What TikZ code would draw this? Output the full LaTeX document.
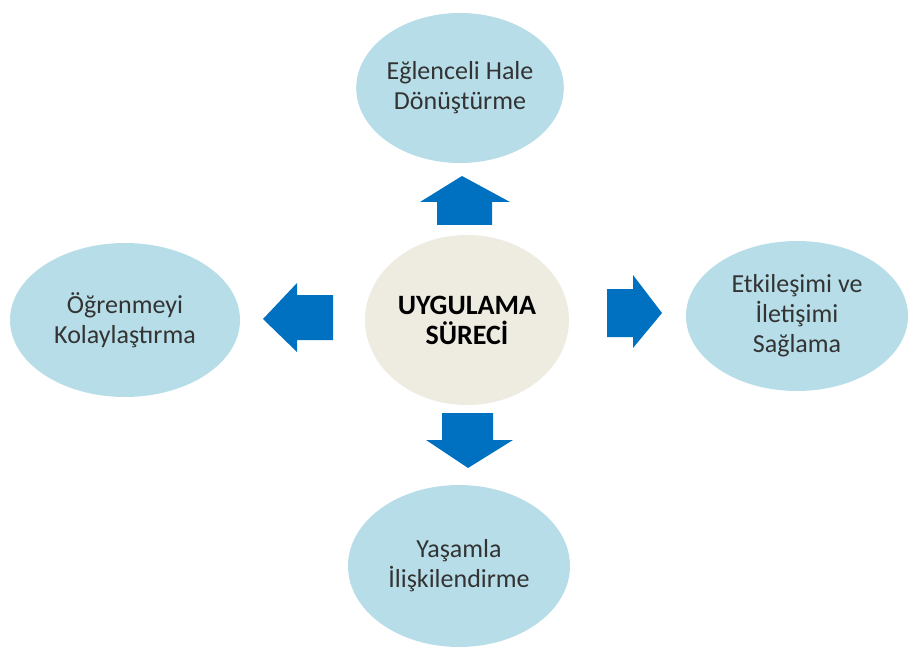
\documentclass[tikz,border=0pt]{standalone}
\usepackage{fontspec}
\setmainfont{Carlito}
\usetikzlibrary{shapes.geometric}
\definecolor{bubbleblue}{HTML}{B7DEE8}
\definecolor{hubbeige}{HTML}{EEECE1}
\definecolor{arrowblue}{HTML}{0070C0}
\definecolor{labelink}{HTML}{333333}

\begin{document}
\begin{tikzpicture}[
  x=1pt,
  y=-1pt,
  every node/.style={font=\fontsize{26}{30}\selectfont, text=labelink},
  bubble/.style={ellipse, fill=bubbleblue, align=center, inner sep=0pt},
  hub/.style={ellipse, fill=hubbeige, align=center, inner sep=0pt,
    font=\fontsize{28}{30}\selectfont\bfseries, text=black},
  blockarrow/.style={fill=arrowblue}
]
\useasboundingbox (0,0) rectangle (910,655);

% =====================================================================
% ellipses
% =====================================================================
\node[hub, minimum width=204pt, minimum height=170pt] (hub) at (467,320)
  {UYGULAMA\\SÜRECİ};

\node[bubble, minimum width=206pt, minimum height=150pt] (fun) at (460,88)
  {Eğlenceli Hale\\Dönüştürme};
\node[bubble, minimum width=230pt, minimum height=154pt] (ease) at (125,320)
  {Öğrenmeyi\\Kolaylaştırma};
\node[bubble, minimum width=222pt, minimum height=150pt] (talk) at (797,316)
  {Etkileşimi ve\\İletişimi\\Sağlama};
\node[bubble, minimum width=222pt, minimum height=162pt] (life) at (459,566)
  {Yaşamla\\İlişkilendirme};

% =====================================================================
% block arrows
% =====================================================================
% up
\fill[blockarrow] (437,225) -- (437,202) -- (420,202) -- (462,176)
  -- (510,202) -- (492,202) -- (492,225) -- cycle;
% left
\fill[blockarrow] (333,295) -- (297,295) -- (297,283) -- (263,319)
  -- (297,352) -- (297,340) -- (333,340) -- cycle;
% right
\fill[blockarrow] (607,289) -- (633,289) -- (633,275) -- (662,313)
  -- (633,348) -- (633,337) -- (607,337) -- cycle;
% down
\fill[blockarrow] (442,413) -- (493,413) -- (493,440) -- (513,440)
  -- (468,468) -- (426,440) -- (442,440) -- cycle;

\end{tikzpicture}
\end{document}
